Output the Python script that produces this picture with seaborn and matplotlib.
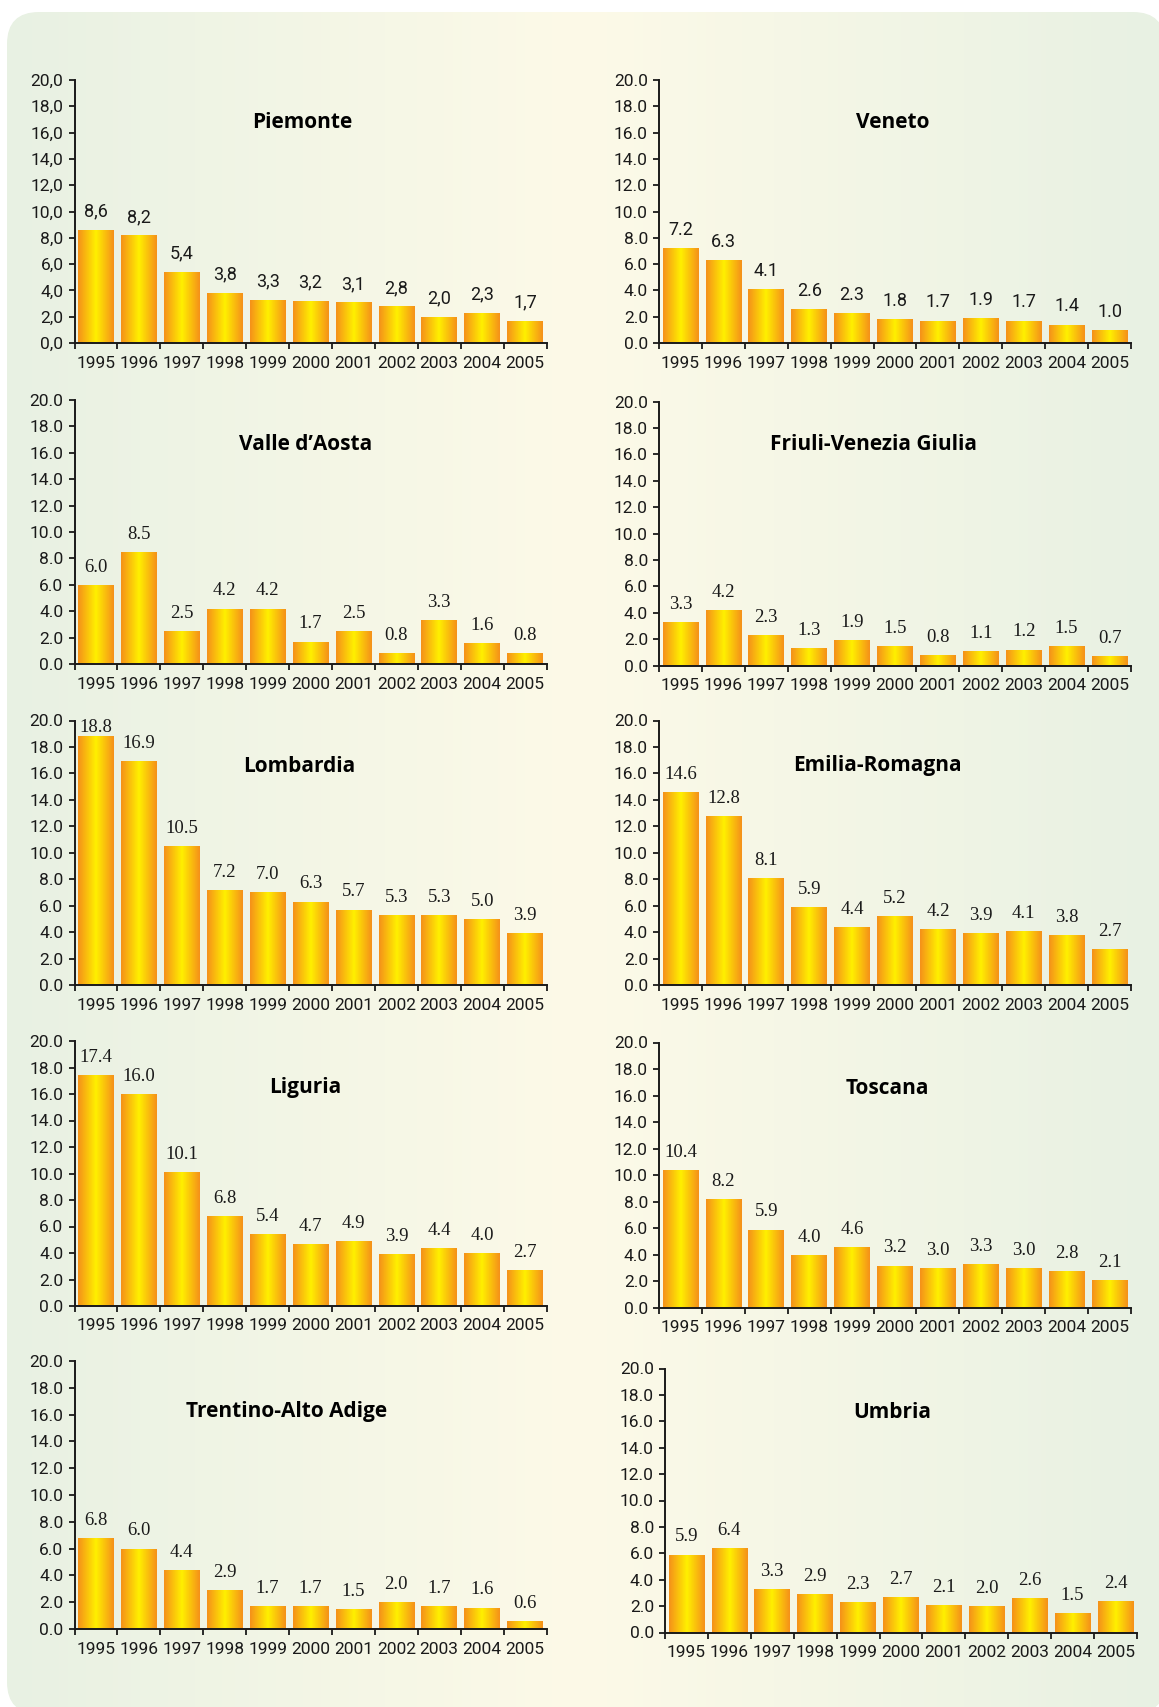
import numpy as np
import matplotlib
matplotlib.use("Agg")
import matplotlib.pyplot as plt
import seaborn as sns
from matplotlib.colors import LinearSegmentedColormap
from matplotlib.patches import FancyBboxPatch

YEARS = ["1995", "1996", "1997", "1998", "1999", "2000",
         "2001", "2002", "2003", "2004", "2005"]

piemonte  = [8.6, 8.2, 5.4, 3.8, 3.3, 3.2, 3.1, 2.8, 2.0, 2.3, 1.7]
veneto    = [7.2, 6.3, 4.1, 2.6, 2.3, 1.8, 1.7, 1.9, 1.7, 1.4, 1.0]
valle     = [6.0, 8.5, 2.5, 4.2, 4.2, 1.7, 2.5, 0.8, 3.3, 1.6, 0.8]
friuli    = [3.3, 4.2, 2.3, 1.3, 1.9, 1.5, 0.8, 1.1, 1.2, 1.5, 0.7]
lombardia = [18.8, 16.9, 10.5, 7.2, 7.0, 6.3, 5.7, 5.3, 5.3, 5.0, 3.9]
emilia    = [14.6, 12.8, 8.1, 5.9, 4.4, 5.2, 4.2, 3.9, 4.1, 3.8, 2.7]
liguria   = [17.4, 16.0, 10.1, 6.8, 5.4, 4.7, 4.9, 3.9, 4.4, 4.0, 2.7]
toscana   = [10.4, 8.2, 5.9, 4.0, 4.6, 3.2, 3.0, 3.3, 3.0, 2.8, 2.1]
trentino  = [6.8, 6.0, 4.4, 2.9, 1.7, 1.7, 1.5, 2.0, 1.7, 1.6, 0.6]
umbria    = [5.9, 6.4, 3.3, 2.9, 2.3, 2.7, 2.1, 2.0, 2.6, 1.5, 2.4]

REGIONS = ["Piemonte", "Veneto", "Valle d\u2019Aosta", "Friuli-Venezia Giulia",
           "Lombardia", "Emilia-Romagna", "Liguria", "Toscana",
           "Trentino-Alto Adige", "Umbria"]
VALUES = [piemonte, veneto, valle, friuli, lombardia, emilia,
          liguria, toscana, trentino, umbria]

# panel box (left, top, right, bottom) and title centre, in pixels
LAYOUT = [
    ((74.5, 80, 546.5, 343),     (302, 123)),
    ((659, 80, 1131, 343),       (893, 123)),
    ((74.5, 400, 546.5, 664),    (306, 444)),
    ((659, 401.5, 1131, 665.5),  (873, 444)),
    ((74.5, 720.5, 546.5, 985),  (299, 766)),
    ((659, 720.5, 1131, 985),    (877, 766)),
    ((74.5, 1041, 546.5, 1306),  (305, 1088)),
    ((659, 1042.5, 1131, 1308),  (887, 1088)),
    ((74.5, 1361, 546.5, 1629),  (287, 1412)),
    ((665, 1368.5, 1137, 1632.5), (892, 1412)),
]

W, H = 1159, 1707
NARROW = ["Roboto", "DejaVu Sans"]
SERIF = ["Liberation Serif", "DejaVu Serif"]
INK = "#1a1a1a"

sns.set_style("ticks")
plt.rcParams["font.family"] = NARROW

bar_cmap = LinearSegmentedColormap.from_list("bar", ["#F5901A", "#FFF000", "#F5901A"])
bg_cmap = LinearSegmentedColormap.from_list("bg", ["#E8F1E3", "#FDFAE8", "#E8F1E3"])
grad = np.linspace(0, 1, 256).reshape(1, -1)

fig = plt.figure(figsize=(W / 100, H / 100), dpi=100)
fig.patch.set_facecolor("white")

# rounded background panel
bg = fig.add_axes([0, 0, 1, 1], zorder=-10)
bg.set_xlim(0, W)
bg.set_ylim(H, 0)
bg.axis("off")
box = FancyBboxPatch((7, 12), 1158, 1702, boxstyle="round,pad=0,rounding_size=32",
                     facecolor="none", edgecolor="none")
bg.add_patch(box)
bgim = bg.imshow(grad, cmap=bg_cmap, extent=[0, W, H, 0], aspect="auto")
bgim.set_clip_path(box)

for i, (name, vals) in enumerate(zip(REGIONS, VALUES)):
    (l, t, r, b), (tx, ty) = LAYOUT[i]
    ax = fig.add_axes([l / W, 1 - b / H, (r - l) / W, (b - t) / H])
    ax.patch.set_alpha(0)
    comma = i == 0
    sans_labels = i < 2

    sns.barplot(x=YEARS, y=vals, ax=ax, width=0.83, color="#F5901A",
                saturation=1, linewidth=0)
    for p in ax.patches:
        x0, y0 = p.get_x(), p.get_y()
        im = ax.imshow(grad, cmap=bar_cmap, aspect="auto", interpolation="bilinear",
                       extent=[x0, x0 + p.get_width(), y0, y0 + p.get_height()],
                       zorder=p.get_zorder() + 0.1)
        im.set_clip_path(p)

    for p, v in zip(ax.patches, vals):
        txt = f"{v:.1f}"
        if comma:
            txt = txt.replace(".", ",")
        off = 9.5 if v < 18 else 3.0
        ax.annotate(txt, (p.get_x() + p.get_width() / 2, v), xytext=(0, off),
                    textcoords="offset points", ha="center", va="baseline",
                    color=INK, zorder=5,
                    family=NARROW if sans_labels else SERIF,
                    fontsize=13 if sans_labels else 13.5)

    ax.set_xlim(-0.5, 10.5)
    ax.set_ylim(0, 20)
    yt = np.arange(0, 21, 2)
    ax.set_yticks(yt)
    ylabs = [f"{v:.1f}" for v in yt]
    if comma:
        ylabs = [s.replace(".", ",") for s in ylabs]
    ax.set_yticklabels(ylabs, fontsize=12.5, color=INK)

    ax.set_xticks(np.arange(-0.5, 11, 1))
    ax.set_xticklabels([])
    ax.set_xticks(np.arange(11), minor=True)
    ax.set_xticklabels(YEARS, minor=True, fontsize=12.5, color=INK)
    ax.tick_params(axis="x", which="minor", length=0, pad=9)
    ax.tick_params(axis="x", which="major", length=4, width=1.3, color=INK)
    ax.tick_params(axis="y", length=4, width=1.3, color=INK, pad=4)
    ax.set_xlabel("")
    ax.set_ylabel("")

    sns.despine(ax=ax)
    for s in ["left", "bottom"]:
        ax.spines[s].set_linewidth(1.4)
        ax.spines[s].set_color(INK)

    fig.text(tx / W, 1 - ty / H, name, ha="center", va="center",
             family=["Open Sans", "DejaVu Sans"], fontweight="bold",
             fontsize=15, color="black")

fig.savefig("out.png", dpi=100, facecolor="white")
